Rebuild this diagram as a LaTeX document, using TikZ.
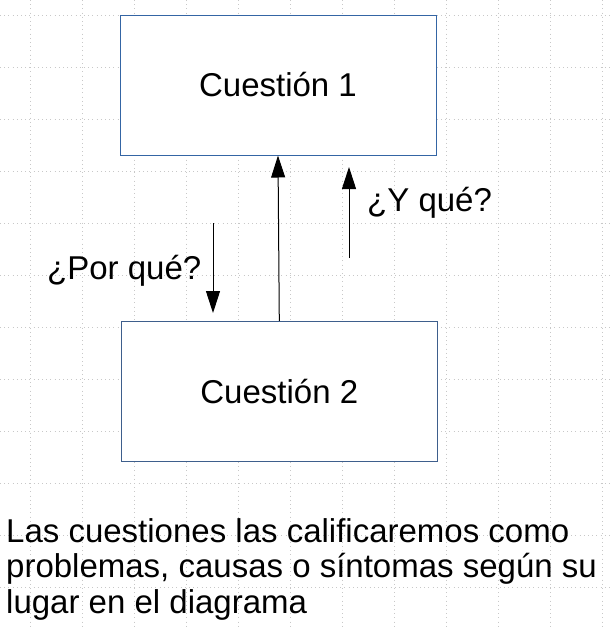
\documentclass[tikz,border=0pt]{standalone}
\usepackage{fontspec}
\setmainfont{Liberation Sans}
\usetikzlibrary{arrows.meta}
\definecolor{boxblue}{HTML}{3465A4}
\definecolor{boxgray}{HTML}{3E5E8C}
\definecolor{gridgray}{HTML}{C8C8C8}
\tikzset{
  gridline/.style={draw=gridgray, line width=0.8pt, dash pattern=on 1pt off 3.2pt},
  qbox/.style={draw=boxblue, fill=white, line width=1pt, minimum width=316pt, minimum height=140pt, inner sep=0pt, text height=23.6pt, text depth=0pt, font=\fontsize{33}{37}\selectfont},
  lbl/.style={anchor=base west, inner sep=0pt, font=\fontsize{33}{37}\selectfont},
  arr/.style={draw=black, line width=1pt, -{Triangle[length=22pt,width=14pt]}}
}
\begin{document}
\begin{tikzpicture}[x=1pt,y=-1pt]
\useasboundingbox (0,0) rectangle (611,627);
\fill[white] (0,0) rectangle (611,627);
% grid
\foreach \gx in {30.3,82.3,...,610} { \draw[gridline] (\gx,0) -- (\gx,627); }
\foreach \gy in {15,67,...,626} { \draw[gridline] (0,\gy) -- (611,\gy); }
% boxes
\node[qbox] (box1) at (278,85) {Cuestión 1};
\node[qbox, draw=boxgray] (box2) at (279.3,391.3) {Cuestión 2};
% arrows
\draw[arr] (box2.north) -- (box1.south);
\coordinate (pq1) at (213,223);
\coordinate (pq2) at (213,313);
\coordinate (yq1) at (349,258);
\coordinate (yq2) at (349,167);
\draw[arr] (pq1) -- (pq2);
\draw[arr] (yq1) -- (yq2);
% labels
\node[lbl] (porque) at (47,279) {¿Por qué?};
\node[lbl] (yque) at (367,211.7) {¿Y qué?};
\node[lbl, align=left, font=\fontsize{33}{35.4}\selectfont, anchor=base west] (nota) at (6,613)
  {Las cuestiones las calificaremos como\\problemas, causas o síntomas según su\\lugar en el diagrama};
\end{tikzpicture}
\end{document}
